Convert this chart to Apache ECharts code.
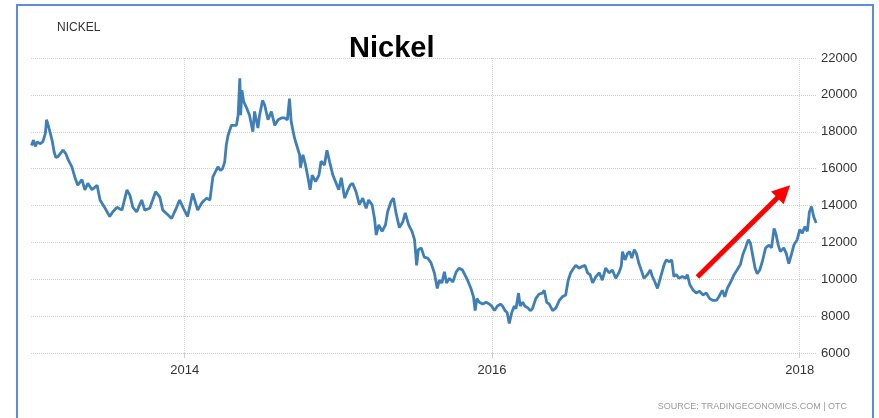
<!DOCTYPE html>
<html>
<head>
<meta charset="utf-8">
<script src="https://cdn.jsdelivr.net/npm/echarts@6/dist/echarts.min.js"></script>
<style>
html,body{margin:0;padding:0;background:#fff;}
#chart{width:879px;height:418px;}
</style>
</head>
<body>
<div id="chart"></div>
<script>
// ---- data ----
const dates = [
'2013-01-02','2013-01-07','2013-01-11','2013-01-16','2013-01-22','2013-01-29','2013-02-04','2013-02-07','2013-02-11','2013-02-15',
'2013-02-20','2013-02-25','2013-03-01','2013-03-06','2013-03-11','2013-03-18','2013-03-25','2013-03-30','2013-04-08','2013-04-15',
'2013-04-22','2013-05-02','2013-05-09','2013-05-16','2013-05-26','2013-06-07','2013-06-14','2013-06-26','2013-07-07','2013-07-14',
'2013-07-24','2013-08-05','2013-08-17','2013-08-24','2013-08-31','2013-09-09','2013-09-21','2013-09-28','2013-10-10','2013-10-17',
'2013-10-24','2013-11-03','2013-11-10','2013-11-22','2013-12-01','2013-12-13','2013-12-20','2013-12-28','2014-01-08','2014-01-20',
'2014-02-01','2014-02-11','2014-02-22','2014-03-02','2014-03-09','2014-03-21','2014-03-27','2014-04-01','2014-04-06','2014-04-10',
'2014-04-14','2014-04-22','2014-04-26','2014-05-04','2014-05-08','2014-05-12','2014-05-14','2014-05-17','2014-05-21','2014-05-28',
'2014-06-04','2014-06-12','2014-06-16','2014-06-24','2014-06-28','2014-07-05','2014-07-10','2014-07-18','2014-07-26','2014-08-03',
'2014-08-11','2014-08-19','2014-08-26','2014-09-02','2014-09-07','2014-09-11','2014-09-19','2014-09-25','2014-10-01','2014-10-03',
'2014-10-09','2014-10-15','2014-10-21','2014-10-26','2014-10-31','2014-11-08','2014-11-16','2014-11-21','2014-11-29','2014-12-05',
'2014-12-11','2014-12-19','2014-12-27','2015-01-02','2015-01-08','2015-01-16','2015-01-24','2015-01-29','2015-02-04','2015-02-12',
'2015-02-20','2015-02-28','2015-03-08','2015-03-14','2015-03-22','2015-03-28','2015-04-01','2015-04-07','2015-04-15','2015-04-23',
'2015-04-28','2015-05-06','2015-05-12','2015-05-18','2015-05-26','2015-06-03','2015-06-09','2015-06-17','2015-06-25','2015-07-01',
'2015-07-06','2015-07-10','2015-07-17','2015-07-24','2015-08-01','2015-08-09','2015-08-17','2015-08-24','2015-08-29','2015-09-04',
'2015-09-10','2015-09-15','2015-09-22','2015-09-30','2015-10-08','2015-10-15','2015-10-23','2015-10-27','2015-11-04','2015-11-12',
'2015-11-18','2015-11-22','2015-11-26','2015-12-02','2015-12-10','2015-12-18','2015-12-26','2015-12-31','2016-01-07','2016-01-14',
'2016-01-21','2016-01-26','2016-02-01','2016-02-06','2016-02-11','2016-02-17','2016-02-23','2016-02-27','2016-03-04','2016-03-08',
'2016-03-14','2016-03-19','2016-03-26','2016-04-01','2016-04-06','2016-04-14','2016-04-22','2016-04-30','2016-05-04','2016-05-10',
'2016-05-16','2016-05-24','2016-06-01','2016-06-09','2016-06-16','2016-06-24','2016-06-30','2016-07-06','2016-07-13','2016-07-18',
'2016-07-26','2016-08-03','2016-08-09','2016-08-15','2016-08-21','2016-08-27','2016-09-04','2016-09-12','2016-09-19','2016-09-27',
'2016-10-05','2016-10-13','2016-10-21','2016-10-29','2016-11-03','2016-11-06','2016-11-12','2016-11-18','2016-11-23','2016-11-28',
'2016-12-04','2016-12-09','2016-12-15','2016-12-22','2016-12-27','2017-01-04','2017-01-11','2017-01-16','2017-01-22','2017-01-28',
'2017-02-05','2017-02-13','2017-02-18','2017-02-25','2017-03-03','2017-03-08','2017-03-14','2017-03-20','2017-03-28','2017-04-05',
'2017-04-09','2017-04-15','2017-04-23','2017-04-30','2017-05-08','2017-05-16','2017-05-24','2017-06-01','2017-06-09','2017-06-17',
'2017-06-23','2017-07-01','2017-07-07','2017-07-13','2017-07-21','2017-07-29','2017-08-05','2017-08-13','2017-08-19','2017-08-25',
'2017-09-01','2017-09-06','2017-09-12','2017-09-17','2017-09-22','2017-09-28','2017-10-04','2017-10-12','2017-10-20','2017-10-26',
'2017-11-01','2017-11-05','2017-11-11','2017-11-16','2017-11-24','2017-11-30','2017-12-06','2017-12-13','2017-12-18','2017-12-26',
'2018-01-01','2018-01-07','2018-01-13','2018-01-19','2018-01-24','2018-01-29','2018-02-03','2018-02-09'
];
const nickelPrices = [
17250,17550,17200,17450,17350,17450,17900,18650,18350,18450,
17550,16900,16600,16650,16800,17000,16800,16500,16100,15550,
15100,15400,14850,15200,14850,15100,14300,13850,13400,13650,
13900,13750,14850,14550,13900,13650,14300,13750,13850,14300,
14750,14450,13750,13500,13300,13900,14300,13900,13400,14650,
13750,14150,14400,14300,15550,16100,15900,16000,16350,17300,
17800,18350,18250,18350,18900,20900,18900,20250,19650,19300,
18900,18000,19100,18200,18900,19700,19450,18650,19100,18350,
18650,18750,18750,18650,19800,18550,17650,17200,16750,16050,
16750,16200,15500,14850,15650,15300,15650,16400,16200,17000,
16400,15650,15200,14850,15500,14400,14850,15100,15200,14750,
14050,14400,13850,14300,14050,13300,12400,12950,12600,12950,
13650,14200,14400,13600,12800,13100,13600,12950,12600,12150,
10750,11600,11700,11200,11150,10900,10350,9500,9950,9800,
10400,9800,10050,9850,10400,10600,10500,10600,9950,9500,
9050,8300,8950,8750,8650,8750,8650,8550,8300,8550,
8650,8550,8300,8200,7600,8200,8550,8400,9250,8550,
8750,8550,8450,8300,8400,8950,9200,9250,9400,8750,
8650,8300,8450,8850,9050,9150,9950,10350,10600,10750,
10600,10700,10750,10350,10250,9800,10150,10350,9950,10600,
10350,10500,10050,10380,10700,11500,11050,11400,11500,11150,
11600,11400,10850,10400,10050,10250,10500,10150,9850,9500,
10150,10800,11050,10950,11050,10150,10250,10050,10150,10050,
10250,9700,9400,9250,9350,9150,9250,8950,8850,8850,
9050,9400,9050,9500,9850,10250,10500,10800,11350,11700,
12150,11950,11200,10600,10300,10500,10950,11700,11850,11700,
12750,12500,11850,11500,11700,11400,10850,11400,11850,12150,
12700,12500,12850,12600,13650,13950,13400,13050
];
const yearTicks = ['2014-01-01','2016-01-01','2018-01-01'];
const yTicks = [6000,8000,10000,12000,14000,16000,18000,20000,22000];
const arrowStart = ['2017-05-03', 10120];
const arrowEnd = ['2017-11-24', 14760];
const axisStart = '2013-01-01';
const axisEnd = '2018-02-11';

const ts = s => Date.UTC(+s.slice(0, 4), +s.slice(5, 7) - 1, +s.slice(8, 10));
const seriesData = dates.map((d, i) => [ts(d), nickelPrices[i]]);
const yearTickValues = yearTicks.map(ts);

const chart = echarts.init(document.getElementById('chart'), null, {renderer: 'canvas'});
const FONT = '"Liberation Sans", Arial, sans-serif';
chart.setOption({
  animation: false,
  backgroundColor: '#ffffff',
  grid: {left: 31, right: 62, top: 58, bottom: 65, containLabel: false},
  xAxis: {
    type: 'value',
    min: ts(axisStart),
    max: ts(axisEnd),
    axisLine: {show: false},
    axisTick: {show: true, length: 5, lineStyle: {color: '#cfcfcf', width: 1}, customValues: yearTickValues},
    axisLabel: {
      customValues: yearTickValues,
      margin: 11,
      color: '#333',
      fontFamily: FONT,
      fontSize: 13,
      formatter: v => String(new Date(v).getUTCFullYear())
    },
    splitLine: {show: true, lineStyle: {color: '#d6d6d6', type: [1, 1], width: 1}}
  },
  yAxis: {
    type: 'value',
    position: 'right',
    min: yTicks[0],
    max: yTicks[yTicks.length - 1],
    interval: 2000,
    axisLine: {show: false},
    axisTick: {show: false},
    axisLabel: {margin: 4, color: '#333', fontFamily: FONT, fontSize: 13, formatter: v => String(v)},
    splitLine: {show: true, lineStyle: {color: '#d0d0d0', type: [1, 1], width: 1}}
  },
  series: [{
    type: 'line',
    name: 'Nickel',
    data: seriesData,
    showSymbol: false,
    symbol: 'none',
    lineStyle: {color: '#3f7fb6', width: 2.8},
    markLine: {
      silent: true,
      symbol: ['none', 'triangle'],
      symbolSize: [18, 18],
      label: {show: false},
      lineStyle: {color: '#ff0000', width: 5, type: 'solid'},
      data: [[{coord: [ts(arrowStart[0]), arrowStart[1]]}, {coord: [ts(arrowEnd[0]), arrowEnd[1]]}]]
    }
  }],
  graphic: [
    {type: 'rect', silent: true, shape: {x: 17, y: 5, width: 856, height: 430},
     style: {fill: 'none', stroke: '#5a8edb', lineWidth: 2}},
    {type: 'text', silent: true, left: 57, top: 22,
     style: {text: 'NICKEL', fill: '#333', font: '12px ' + FONT}},
    {type: 'text', silent: true, left: 349, top: 34,
     style: {text: 'Nickel', fill: '#000', font: 'bold 29px ' + FONT}},
    {type: 'text', silent: true, right: 32, top: 402,
     style: {text: 'SOURCE: TRADINGECONOMICS.COM | OTC', fill: '#9a9a9a', font: '9px ' + FONT}}
  ]
});
</script>
</body>
</html>
